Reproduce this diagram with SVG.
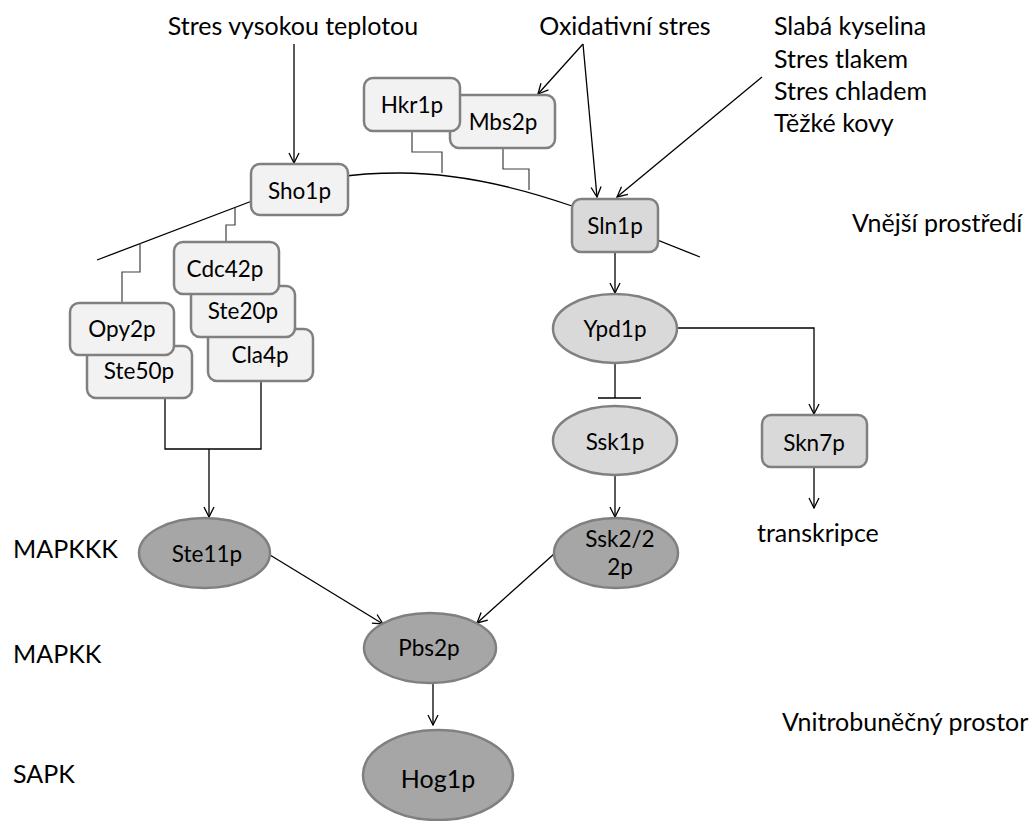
<svg xmlns="http://www.w3.org/2000/svg" width="1035" height="821" viewBox="0 0 1035 821">
<defs>
<marker id="arr" viewBox="0 0 12 12" refX="11" refY="6" markerWidth="12" markerHeight="12" markerUnits="userSpaceOnUse" orient="auto">
<path d="M1,1 L11,6 L1,11" fill="none" stroke="#000" stroke-width="1.3"/>
</marker>
<style>
text{font-family:Lato,"Open Sans","Liberation Sans",sans-serif;fill:#000;}
.lbl{font-size:25px;}
.nt{font-size:22.5px;text-anchor:middle;}
.big{font-size:25px;text-anchor:middle;}
.box{fill:#f2f2f2;stroke:#808080;stroke-width:2.5;}
.box2{fill:#d9d9d9;stroke:#808080;stroke-width:2.5;}
.ell1{fill:#d9d9d9;stroke:#808080;stroke-width:2.5;}
.ell2{fill:#a6a6a6;stroke:#808080;stroke-width:2.5;}
.c{fill:none;stroke:#000;stroke-width:1.3;}
.g{fill:none;stroke:#404040;stroke-width:1.2;}
.a{fill:none;stroke:#000;stroke-width:1.3;marker-end:url(#arr);}
</style>
</defs>
<rect width="1035" height="821" fill="#fff"/>

<g id="membrane">
<path class="c" d="M97,260 L252,201 C320,175 360,173 400,173 C460,173 520,188 572,206 L700,257"/>
</g>

<g id="connectors">
<line class="a" x1="294" y1="44" x2="294" y2="163"/>
<line class="a" x1="583" y1="44" x2="538" y2="94"/>
<line class="a" x1="583" y1="44" x2="597" y2="197"/>
<line class="a" x1="762" y1="77" x2="617" y2="197"/>
<polyline class="g" points="412,131 412,152 442,152 442,173"/>
<polyline class="g" points="503,148 503,169 529,169 529,190"/>
<polyline class="g" points="235,208 235,225 226,225 226,242"/>
<polyline class="g" points="140,243 140,272 122,272 122,303"/>
<polyline class="c" points="165,398 165,449 261,449 261,381"/>
<line class="a" x1="209" y1="449" x2="209" y2="517"/>
<line class="a" x1="615" y1="252" x2="615" y2="293"/>
<polyline class="a" points="677,328 814,328 814,414"/>
<line class="c" x1="615" y1="363" x2="615" y2="398"/>
<line class="c" x1="598" y1="398" x2="641" y2="398"/>
<line class="a" x1="615" y1="475" x2="615" y2="517"/>
<line class="a" x1="814" y1="467" x2="814" y2="508"/>
<line class="a" x1="270" y1="555" x2="383" y2="624"/>
<line class="a" x1="554" y1="554" x2="477" y2="623"/>
<line class="a" x1="433" y1="683" x2="433" y2="725"/>
</g>

<g id="labels">
<text class="lbl" x="293" y="35" text-anchor="middle">Stres vysokou teplotou</text>
<text class="lbl" x="625" y="35" text-anchor="middle">Oxidativní stres</text>
<text class="lbl" x="774" y="35">Slabá kyselina</text>
<text class="lbl" x="774" y="68">Stres tlakem</text>
<text class="lbl" x="774" y="100">Stres chladem</text>
<text class="lbl" x="774" y="132">Těžké kovy</text>
<text class="lbl" x="852" y="232">Vnější prostředí</text>
<text class="lbl" x="757" y="542">transkripce</text>
<text class="lbl" x="782" y="731">Vnitrobuněčný prostor</text>
<text class="lbl" x="13" y="558">MAPKKK</text>
<text class="lbl" x="13" y="663">MAPKK</text>
<text class="lbl" x="13" y="783">SAPK</text>
</g>

<g id="Sho1p"><rect class="box" x="251" y="164" width="97" height="51" rx="9"/><text class="nt" x="299.5" y="199">Sho1p</text></g>
<g id="Mbs2p"><rect class="box" x="450" y="95" width="105" height="53" rx="9"/><text class="nt" x="503" y="130">Mbs2p</text></g>
<g id="Hkr1p"><rect class="box" x="364" y="78" width="96" height="53" rx="9"/><text class="nt" x="412" y="113">Hkr1p</text></g>
<g id="Sln1p"><rect class="box2" x="572" y="199" width="86" height="53" rx="9"/><text class="nt" x="615" y="234">Sln1p</text></g>
<g id="Cla4p"><rect class="box" x="208" y="329" width="105" height="52" rx="9"/><text class="nt" x="260" y="363">Cla4p</text></g>
<g id="Ste20p"><rect class="box" x="191" y="286" width="104" height="51" rx="9"/><text class="nt" x="243" y="319">Ste20p</text></g>
<g id="Cdc42p"><rect class="box" x="174" y="242" width="105" height="52" rx="9"/><text class="nt" x="225" y="277">Cdc42p</text></g>
<g id="Ste50p"><rect class="box" x="87" y="346" width="105" height="52" rx="9"/><text class="nt" x="139" y="379">Ste50p</text></g>
<g id="Opy2p"><rect class="box" x="70" y="303" width="104" height="52" rx="9"/><text class="nt" x="122" y="337">Opy2p</text></g>
<g id="Ypd1p"><ellipse class="ell1" cx="615" cy="328.5" rx="62" ry="34.5"/><text class="nt" x="615" y="337">Ypd1p</text></g>
<g id="Ssk1p"><ellipse class="ell1" cx="615" cy="440.5" rx="62" ry="34.5"/><text class="nt" x="615" y="450">Ssk1p</text></g>
<g id="Skn7p"><rect class="box2" x="762" y="415" width="105" height="52" rx="9"/><text class="nt" x="814" y="451">Skn7p</text></g>
<g id="Ssk2-22p"><ellipse class="ell2" cx="616" cy="553" rx="62" ry="35"/><text class="nt" x="620" y="547">Ssk2/2</text><text class="nt" x="620" y="575">2p</text></g>
<g id="Ste11p"><ellipse class="ell2" cx="204.5" cy="553" rx="65.5" ry="35"/><text class="nt" x="207" y="562">Ste11p</text></g>
<g id="Pbs2p"><ellipse class="ell2" cx="430" cy="648" rx="66" ry="35"/><text class="nt" x="429" y="656">Pbs2p</text></g>
<g id="Hog1p"><ellipse class="ell2" cx="438" cy="775" rx="75" ry="45"/><text class="big" x="438" y="788">Hog1p</text></g>
</svg>
